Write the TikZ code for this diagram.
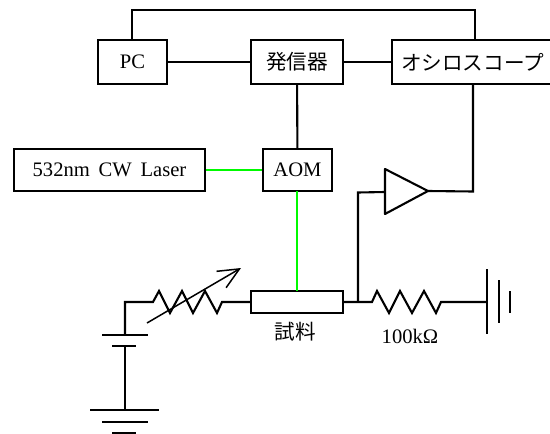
\documentclass[tikz,border=0pt]{standalone}
\usepackage{fontspec}
\setmainfont[WordSpace=1.7]{Liberation Serif}
\newfontfamily\cjk{Noto Sans CJK JP}
\usetikzlibrary{arrows.meta,positioning}
\definecolor{beamgreen}{RGB}{0,250,0}
\tikzset{
  wire/.style={line width=2.1pt},
  beam/.style={line width=2.1pt,draw=beamgreen},
  thin wire/.style={line width=1.5pt},
  box/.style={draw,line width=2.1pt,inner sep=0pt},
}
\begin{document}
\begin{tikzpicture}[x=1pt,y=-1pt,every node/.style={font=\fontsize{20.6}{24}\selectfont}]
\useasboundingbox (0,0) rectangle (550,434);
\node[box,minimum width=69pt,minimum height=44pt] (pc) at (132.5,62) {PC};
\node[box,minimum width=92pt,minimum height=44pt] (gen) at (297,62) {\cjk 発信器};
\node[box,minimum width=161pt,minimum height=44pt] (scope) at (472.5,62) {\cjk オシロスコープ};
\node[box,minimum width=191pt,minimum height=42pt] (laser) at (109.5,170) {532nm CW Laser};
\node[box,minimum width=69pt,minimum height=42pt] (aom) at (297.5,170) {AOM};
\node[box,minimum width=92pt,minimum height=22pt] (sample) at (297,302) {};
\node (samplelabel) at (295,332) {\cjk 試料};
\node (rlabel) at (410,336) {100kΩ};
% top loop
\coordinate (t0) at (132,10);
\coordinate (t1) at (475,10);
\draw[wire] (t0 |- pc.north)--(t0)--(t1)--(t1 |- scope.north);
\draw[wire] (pc)--(gen);
\draw[wire] (gen)--(scope);
\draw[wire] (gen)--(aom);
\draw[beam] (laser)--(aom);
\coordinate (b1) at (297,191);
\coordinate (b2) at (297,291);
\draw[beam] (b1)--(b2);
% amplifier
\coordinate (a1) at (385,169);
\coordinate (a2) at (385,214);
\coordinate (a3) at (428,191);
\draw[wire,line join=round] (a1)--(a3)--(a2)--cycle;
\coordinate (s0) at (473,191.5);
\draw[wire] (a3)--(s0)--(s0 |- scope.south);
\coordinate (j0) at (358,302);
\coordinate (j1) at (358,192.5);
\draw[wire] (j0)--(j1)--(385,192);
% load resistor and ground
\coordinate (g0) at (487,302);
\draw[wire] (sample.east |- j0)--(372,302)--(377,291)--(389,313)--(400,291)--(412,313)--(424,291)--(436,313)--(441,302)--(g0);
\draw[wire] (487,269)--(487,334);
\draw[wire] (499,280)--(499,323);
\draw[wire] (510,291)--(510,313);
% variable resistor
\coordinate (b0) at (125,302);
\draw[wire] (sample.west |- b0)--(222,302)--(217,313)--(205,291)--(193,313)--(182,291)--(170,313)--(159,291)--(153,302)--(b0)--(125,335);
\draw[thin wire,-{Straight Barb[length=21pt,width=19pt,line width=1.5pt]}] (147,323)--(241,268);
% battery and ground
\draw[wire] (102,335)--(148,335);
\draw[wire] (112,346)--(136,346);
\draw[wire] (125,346)--(125,410);
\draw[wire] (90,410)--(159,410);
\draw[wire] (102,422)--(148,422);
\draw[wire] (112,433)--(136,433);
\end{tikzpicture}
\end{document}
